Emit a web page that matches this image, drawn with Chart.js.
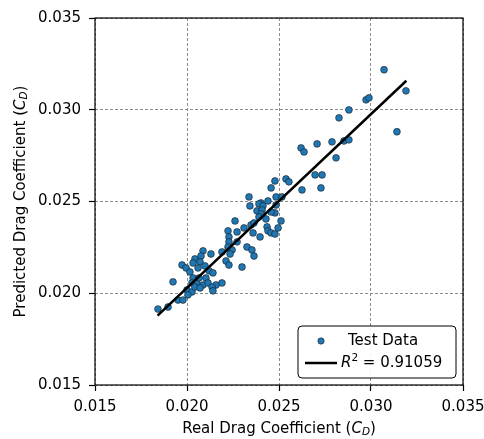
<!DOCTYPE html>
<html lang="en">
<head>
<meta charset="UTF-8">
<title>Real vs Predicted Drag Coefficient</title>
<script src="https://cdn.jsdelivr.net/npm/chart.js"></script>
<style>
    html, body { margin: 0; padding: 0; background: #fff; }
    #wrap { position: relative; width: 484px; height: 439px; }
</style>
</head>
<body>
<div id="wrap"><canvas id="chart" width="484" height="439"></canvas></div>
<script>
    // test set: real vs predicted C_D
    const realCd = [
        0.03071, 0.03190, 0.02973, 0.02989, 0.02880, 0.02826, 0.03141, 0.02620, 0.02636, 0.02707,
        0.02788, 0.02853, 0.02880, 0.02810, 0.02696, 0.02734, 0.02478, 0.02457, 0.02538, 0.02554,
        0.02625, 0.02728, 0.02484, 0.02516, 0.02440, 0.02402, 0.02484, 0.02337, 0.02342, 0.02391,
        0.02413, 0.02380, 0.02408, 0.02402, 0.02391, 0.02429, 0.02478, 0.02457, 0.02261, 0.02310,
        0.02348, 0.02364, 0.02435, 0.02440, 0.02457, 0.02478, 0.02495, 0.02511, 0.02272, 0.02359,
        0.02397, 0.02223, 0.02228, 0.02228, 0.02272, 0.02326, 0.02353, 0.02364, 0.02223, 0.02245,
        0.02234, 0.02087, 0.02076, 0.02130, 0.02190, 0.02212, 0.02228, 0.02299, 0.02043, 0.02071,
        0.02098, 0.02120, 0.01973, 0.02033, 0.01995, 0.02016, 0.02060, 0.02141, 0.01924, 0.02033,
        0.02065, 0.02103, 0.02027, 0.02054, 0.02087, 0.02114, 0.02158, 0.02190, 0.02000, 0.02027,
        0.02043, 0.02071, 0.02136, 0.02141, 0.02005, 0.01951, 0.01978, 0.01842, 0.01897
    ];
    const predCd = [
        0.03218, 0.03103, 0.03054, 0.03065, 0.02999, 0.02956, 0.02880, 0.02792, 0.02770, 0.02814,
        0.02825, 0.02830, 0.02836, 0.02738, 0.02645, 0.02645, 0.02612, 0.02574, 0.02623, 0.02607,
        0.02563, 0.02574, 0.02525, 0.02525, 0.02503, 0.02492, 0.02481, 0.02525, 0.02476, 0.02487,
        0.02476, 0.02449, 0.02454, 0.02432, 0.02416, 0.02405, 0.02438, 0.02443, 0.02394, 0.02356,
        0.02372, 0.02383, 0.02362, 0.02340, 0.02329, 0.02323, 0.02356, 0.02394, 0.02334, 0.02329,
        0.02307, 0.02340, 0.02307, 0.02280, 0.02280, 0.02252, 0.02236, 0.02203, 0.02252, 0.02236,
        0.02214, 0.02231, 0.02203, 0.02214, 0.02225, 0.02176, 0.02154, 0.02143, 0.02187, 0.02171,
        0.02149, 0.02122, 0.02154, 0.02165, 0.02138, 0.02116, 0.02138, 0.02111, 0.02062, 0.02083,
        0.02083, 0.02083, 0.02056, 0.02051, 0.02045, 0.02056, 0.02045, 0.02056, 0.02018, 0.02007,
        0.02034, 0.02029, 0.02034, 0.02013, 0.01991, 0.01963, 0.01963, 0.01914, 0.01925
    ];
    // regression line end points
    const fitX = [0.01840, 0.03192];
    const fitY = [0.01878, 0.03158];
    const tickValues = [0.015, 0.020, 0.025, 0.030, 0.035];
    const r2Text = '0.91059';

    const FONT = '"DejaVu Sans", sans-serif';
    const BLUE = '#1f77b4';

    // draw a list of text pieces (normal / italic / sub / sup) starting at x
    function drawPieces(ctx, pieces, x, y, size) {
        let cx = x;
        pieces.forEach(p => {
            const s = p.small ? size * 0.7 : size;
            ctx.font = (p.italic ? 'italic ' : '') + s + 'px ' + FONT;
            ctx.fillText(p.t, cx, y + (p.dy || 0));
            cx += ctx.measureText(p.t).width;
        });
    }
    function piecesWidth(ctx, pieces, size) {
        let w = 0;
        pieces.forEach(p => {
            const s = p.small ? size * 0.7 : size;
            ctx.font = (p.italic ? 'italic ' : '') + s + 'px ' + FONT;
            w += ctx.measureText(p.t).width;
        });
        return w;
    }

    const decor = {
        id: 'decor',
        afterDraw(chart) {
            const ctx = chart.ctx;
            const a = chart.chartArea;
            ctx.save();
            // frame
            ctx.strokeStyle = '#000';
            ctx.lineWidth = 1.2;
            ctx.strokeRect(a.left, a.top, a.right - a.left, a.bottom - a.top);

            // axis titles
            ctx.fillStyle = '#000';
            ctx.textBaseline = 'middle';
            const size = 15;
            const xt = [{t: 'Real Drag Coefficient ('}, {t: 'C', italic: true},
                        {t: 'D', italic: true, small: true, dy: 3}, {t: ')'}];
            const w1 = piecesWidth(ctx, xt, size);
            drawPieces(ctx, xt, (a.left + a.right) / 2 - w1 / 2, 429, size);

            const yt = [{t: 'Predicted Drag Coefficient ('}, {t: 'C', italic: true},
                        {t: 'D', italic: true, small: true, dy: 3}, {t: ')'}];
            const w2 = piecesWidth(ctx, yt, size);
            ctx.save();
            ctx.translate(21, (a.top + a.bottom) / 2);
            ctx.rotate(-Math.PI / 2);
            drawPieces(ctx, yt, -w2 / 2, 0, size);
            ctx.restore();

            // legend box
            const lx = a.right - 165, ly = a.bottom - 59, lw = 158, lh = 52;
            ctx.fillStyle = 'rgba(255,255,255,0.9)';
            ctx.strokeStyle = '#000';
            ctx.lineWidth = 1;
            ctx.beginPath();
            ctx.roundRect(lx, ly, lw, lh, 4);
            ctx.fill();
            ctx.stroke();

            ctx.fillStyle = BLUE;
            ctx.strokeStyle = '#222';
            ctx.lineWidth = 0.6;
            ctx.beginPath();
            ctx.arc(lx + 23, ly + 15, 3.2, 0, Math.PI * 2);
            ctx.fill();
            ctx.stroke();

            ctx.strokeStyle = '#000';
            ctx.lineWidth = 2.5;
            ctx.beginPath();
            ctx.moveTo(lx + 7, ly + 37);
            ctx.lineTo(lx + 39, ly + 37);
            ctx.stroke();

            ctx.fillStyle = '#000';
            drawPieces(ctx, [{t: 'Test Data'}], lx + 50, ly + 15, 15);
            drawPieces(ctx, [{t: 'R', italic: true}, {t: '2', small: true, dy: -5},
                             {t: ' = ' + r2Text}], lx + 43, ly + 37, 15);
            ctx.restore();
        }
    };

    const setTicks = scale => { scale.ticks = tickValues.map(v => ({value: v})); };

    const axisOpts = (extra) => Object.assign({
        type: 'linear',
        min: 0.015,
        max: 0.035,
        afterBuildTicks: setTicks,
        border: {display: false, dash: [3, 2]},
        grid: {
            color: '#8c8c8c',
            lineWidth: 1,
            tickBorderDash: [],
            tickColor: '#000',
            tickWidth: 1.2,
            tickLength: 6
        }
    }, extra);

    new Chart(document.getElementById('chart'), {
        type: 'scatter',
        data: {
            datasets: [{
                type: 'line',
                label: 'fit',
                data: fitX.map((x, i) => ({x: x, y: fitY[i]})),
                borderColor: '#000',
                borderWidth: 2.5,
                pointRadius: 0,
                fill: false,
                order: 0
            }, {
                label: 'Test Data',
                data: realCd.map((x, i) => ({x: x, y: predCd[i]})),
                backgroundColor: BLUE,
                borderColor: '#1a1a1a',
                borderWidth: 0.6,
                pointRadius: 3.4,
                order: 1
            }]
        },
        options: {
            responsive: false,
            animation: false,
            layout: {padding: {left: 0, right: 21, top: 18, bottom: 0}},
            plugins: {legend: {display: false}, tooltip: {enabled: false}},
            scales: {
                x: axisOpts({
                    position: 'bottom',
                    ticks: {color: '#000', font: {family: FONT, size: 15}, padding: 7, maxRotation: 0,
                            callback: v => v.toFixed(3)},
                    afterFit: s => { s.height = 54; s.paddingLeft = 0; s.paddingRight = 0; }
                }),
                y: axisOpts({
                    position: 'left',
                    ticks: {color: '#000', font: {family: FONT, size: 15}, padding: 8,
                            callback: v => v.toFixed(3)},
                    afterFit: s => { s.width = 95; s.paddingTop = 0; s.paddingBottom = 0; }
                })
            }
        },
        plugins: [decor]
    });
</script>
</body>
</html>
